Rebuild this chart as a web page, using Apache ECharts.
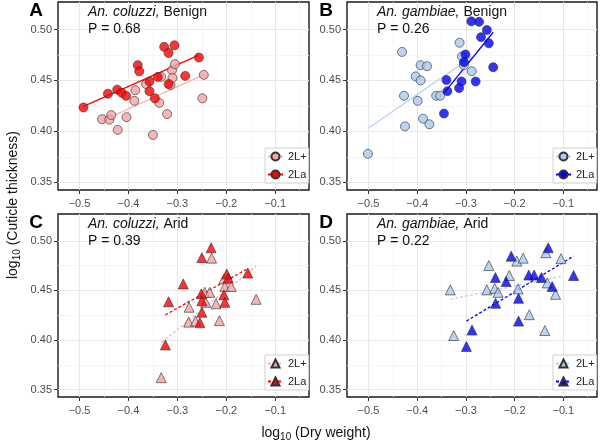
<!DOCTYPE html>
<html>
<head>
<meta charset="utf-8">
<script src="https://cdn.jsdelivr.net/npm/echarts@6/dist/echarts.min.js"></script>
<style>html,body{margin:0;padding:0;background:#fff}#c{width:600px;height:446px}</style>
</head>
<body>
<div id="c"></div>
<script>
// ---- data (log10 dry weight, log10 cuticle thickness) ----
const coluzziBenignPlus = [[-0.454,0.412],[-0.439,0.4115],[-0.435,0.416],[-0.422,0.4015],[-0.404,0.414],[-0.386,0.4405],[-0.388,0.430],[-0.364,0.4465],[-0.350,0.3965],[-0.337,0.428],[-0.333,0.4535],[-0.321,0.417],[-0.314,0.4455],[-0.311,0.460],[-0.310,0.4525],[-0.305,0.466],[-0.246,0.4555],[-0.249,0.4325]];
const coluzziBenignLa = [[-0.492,0.4235],[-0.442,0.437],[-0.423,0.441],[-0.414,0.438],[-0.405,0.435],[-0.381,0.465],[-0.378,0.459],[-0.357,0.449],[-0.357,0.4395],[-0.346,0.4325],[-0.340,0.4535],[-0.327,0.483],[-0.318,0.477],[-0.318,0.4465],[-0.306,0.4845],[-0.284,0.4545],[-0.256,0.4725]];
const gambiaeBenignPlus = [[-0.501,0.378],[-0.431,0.478],[-0.427,0.435],[-0.425,0.405],[-0.403,0.454],[-0.399,0.430],[-0.393,0.465],[-0.393,0.450],[-0.388,0.4125],[-0.380,0.464],[-0.375,0.407],[-0.361,0.435],[-0.353,0.435],[-0.313,0.487],[-0.308,0.4735],[-0.304,0.465],[-0.288,0.459]];
const gambiaeBenignLa = [[-0.345,0.4175],[-0.340,0.4505],[-0.338,0.4395],[-0.314,0.4425],[-0.309,0.449],[-0.304,0.468],[-0.301,0.4755],[-0.289,0.508],[-0.280,0.449],[-0.273,0.5075],[-0.269,0.4925],[-0.257,0.4995],[-0.253,0.4865],[-0.244,0.463]];
const coluzziAridPlus = [[-0.333,0.362],[-0.276,0.433],[-0.277,0.418],[-0.263,0.419],[-0.244,0.448],[-0.242,0.438],[-0.234,0.448],[-0.230,0.4825],[-0.221,0.4365],[-0.214,0.4195],[-0.205,0.4615],[-0.203,0.454],[-0.190,0.454],[-0.139,0.441]];
const coluzziAridLa = [[-0.3245,0.395],[-0.318,0.4385],[-0.288,0.4565],[-0.250,0.483],[-0.231,0.493],[-0.251,0.4465],[-0.250,0.4395],[-0.250,0.428],[-0.254,0.4175],[-0.205,0.4455],[-0.203,0.438],[-0.199,0.4665],[-0.196,0.4625],[-0.156,0.4675]];
const gambiaeAridPlus = [[-0.332,0.4505],[-0.325,0.4045],[-0.253,0.475],[-0.257,0.4505],[-0.241,0.452],[-0.234,0.448],[-0.211,0.465],[-0.1955,0.4795],[-0.1825,0.4825],[-0.193,0.4515],[-0.170,0.4255],[-0.136,0.488],[-0.133,0.4575],[-0.138,0.4095],[-0.116,0.446],[-0.105,0.482]];
const gambiaeAridLa = [[-0.299,0.3935],[-0.2875,0.410],[-0.2395,0.463],[-0.239,0.437],[-0.2175,0.459],[-0.207,0.4845],[-0.192,0.442],[-0.192,0.419],[-0.171,0.4655],[-0.160,0.4655],[-0.145,0.463],[-0.131,0.493],[-0.123,0.454],[-0.079,0.465]];

const panelLetters = ['A','B','C','D'];
const species = ['An. coluzzi,','An. gambiae,','An. coluzzi,','An. gambiae,'];
const conditions = ['Benign','Benign','Arid','Arid'];
const pValues = ['0.68','0.26','0.39','0.22'];
const groups = ['2L+','2La'];
const xTicks = [-0.5,-0.4,-0.3,-0.2,-0.1];
const xMinor = [-0.45,-0.35,-0.25,-0.15,-0.05];
const yTicks = [0.35,0.40,0.45,0.50];
const yMinor = [0.375,0.425,0.475];

// ---- layout / style ----
const X_MIN = -0.544, X_MAX = -0.031, Y_MIN = 0.3425, Y_MAX = 0.527;
const grids = [
  {left:58, top:2, width:251, height:188},
  {left:347, top:2, width:250, height:188},
  {left:58, top:214, width:251, height:183},
  {left:347, top:214, width:250, height:183}
];
const panelData = [
  [coluzziBenignPlus, coluzziBenignLa],
  [gambiaeBenignPlus, gambiaeBenignLa],
  [coluzziAridPlus, coluzziAridLa],
  [gambiaeAridPlus, gambiaeAridLa]
];
const fills = [['#f5a3a3','#ff0000'],['#a9c9ee','#0000ff'],['#f5a3a3','#ff0000'],['#a9c9ee','#0000ff']];
const lineColors = [['#f8b4b4','#ff0000'],['#b8d5f7','#0000ff'],['#f8b4b4','#ff0000'],['#b8d5f7','#0000ff']];
const symbols = ['circle','circle','triangle','triangle'];
const lineTypes = ['solid','solid',[3,2],[3,2]];
const FONT = "'Liberation Sans', Arial, Helvetica, sans-serif";

function fitLine(pts){
  const n = pts.length;
  let sx=0, sy=0; pts.forEach(p=>{sx+=p[0]; sy+=p[1];});
  const mx=sx/n, my=sy/n;
  let sxy=0, sxx=0; pts.forEach(p=>{sxy+=(p[0]-mx)*(p[1]-my); sxx+=(p[0]-mx)*(p[0]-mx);});
  const b=sxy/sxx, a=my-b*mx;
  const xs=pts.map(p=>p[0]);
  const x0=Math.min(...xs), x1=Math.max(...xs);
  return [[x0,a+b*x0],[x1,a+b*x1]];
}
const fmtX = v => (v<0?'\u2212':'') + Math.abs(v).toFixed(1);
const fmtY = v => v.toFixed(2);

const xAxis=[], yAxis=[], series=[], legend=[], graphic=[];
grids.forEach((g,i)=>{
  xAxis.push({gridIndex:i, type:'value', min:X_MIN, max:X_MAX, position:'bottom',
    axisLine:{show:false},
    axisTick:{show:true, length:4, lineStyle:{color:'#333', width:1}, customValues:xTicks},
    axisLabel:{customValues:xTicks, formatter:fmtX, fontSize:11, color:'#4d4d4d', margin:8, fontFamily:FONT},
    splitLine:{show:true, lineStyle:{color:'#e8e8e8', width:1}}, z:1});
  xAxis.push({gridIndex:i, type:'value', min:X_MIN, max:X_MAX, position:'bottom',
    axisLine:{show:false}, axisTick:{show:false, customValues:xMinor}, axisLabel:{show:false, customValues:xMinor},
    splitLine:{show:true, lineStyle:{color:'#f2f2f2', width:0.8}}, z:0});
  yAxis.push({gridIndex:i, type:'value', min:Y_MIN, max:Y_MAX,
    axisLine:{show:false},
    axisTick:{show:true, length:4, lineStyle:{color:'#333', width:1}, customValues:yTicks},
    axisLabel:{customValues:yTicks, formatter:fmtY, fontSize:11, color:'#4d4d4d', margin:6, fontFamily:FONT},
    splitLine:{show:true, lineStyle:{color:'#e8e8e8', width:1}}, z:1});
  yAxis.push({gridIndex:i, type:'value', min:Y_MIN, max:Y_MAX,
    axisLine:{show:false}, axisTick:{show:false, customValues:yMinor}, axisLabel:{show:false, customValues:yMinor},
    splitLine:{show:true, lineStyle:{color:'#f2f2f2', width:0.8}}, z:0});

  const p = panelLetters[i];
  groups.forEach((grp,k)=>{
    const pts = panelData[i][k];
    const itemStyle = {color:fills[i][k], borderColor:'#333', borderWidth:0.7};
    series.push({name:p+'|'+grp, type:'line', xAxisIndex:2*i, yAxisIndex:2*i, data:fitLine(pts),
      showSymbol:false, symbol:symbols[i], silent:true, z:2,
      lineStyle:{color:lineColors[i][k], width:1.3, type:lineTypes[i]}, itemStyle:itemStyle,
      emphasis:{disabled:true}});
  });
  groups.forEach((grp,k)=>{
    const pts = panelData[i][k];
    series.push({name:p+'|'+grp+' pts', type:'scatter', xAxisIndex:2*i, yAxisIndex:2*i, data:pts,
      symbol:symbols[i], symbolSize: symbols[i]==='triangle'?10:9, z:3,
      itemStyle:{color:fills[i][k], borderColor:'#333', borderWidth:0.8}, emphasis:{disabled:true}});
  });

  legend.push({orient:'vertical', left:g.left+g.width-44, top:g.top+g.height-42,
    data:groups.map(grp=>p+'|'+grp), formatter:n=>n.split('|')[1], selectedMode:false,
    itemWidth:15, itemHeight:10, itemGap:7, padding:[3,2,3,2],
    backgroundColor:'#fff', borderColor:'#d0d0d0', borderWidth:1, borderRadius:0,
    textStyle:{fontSize:11, color:'#222', fontFamily:FONT}});

  graphic.push({type:'text', x:(i%2===0?36:326), y:g.top+9, z:10,
    style:{text:panelLetters[i], font:'bold 19px '+FONT, fill:'#000', textAlign:'center', textVerticalAlign:'middle'}});
  graphic.push({type:'text', x:g.left+30, y:g.top+2, z:10,
    style:{text:'{i|'+species[i]+'} '+conditions[i]+'\nP = '+pValues[i], font:'14px '+FONT, fill:'#111',
      lineHeight:17, textAlign:'left', textVerticalAlign:'top',
      rich:{i:{fontStyle:'italic', fontSize:14, fontFamily:FONT, lineHeight:17}}}});
});

graphic.push({type:'text', x:13, y:205, rotation:Math.PI/2, z:10,
  style:{text:'{n|log}{s|10}{n| (Cuticle thickness)}', textAlign:'center', textVerticalAlign:'middle', fill:'#111',
    rich:{n:{fontSize:14, fontFamily:FONT, lineHeight:18}, s:{fontSize:10, fontFamily:FONT, padding:[9,0,0,0]}}}});
graphic.push({type:'text', x:316, y:433, z:10,
  style:{text:'{n|log}{s|10}{n| (Dry weight)}', textAlign:'center', textVerticalAlign:'middle', fill:'#111',
    rich:{n:{fontSize:14, fontFamily:FONT, lineHeight:18}, s:{fontSize:10, fontFamily:FONT, padding:[9,0,0,0]}}}});

const chart = echarts.init(document.getElementById('c'), null, {renderer:'canvas'});
chart.setOption({
  animation:false,
  backgroundColor:'#fff',
  grid: grids.map(g=>Object.assign({show:true, borderColor:'#1a1a1a', borderWidth:1.4, backgroundColor:'#fff', containLabel:false}, g)),
  xAxis, yAxis, series, legend, graphic
});
</script>
</body>
</html>
